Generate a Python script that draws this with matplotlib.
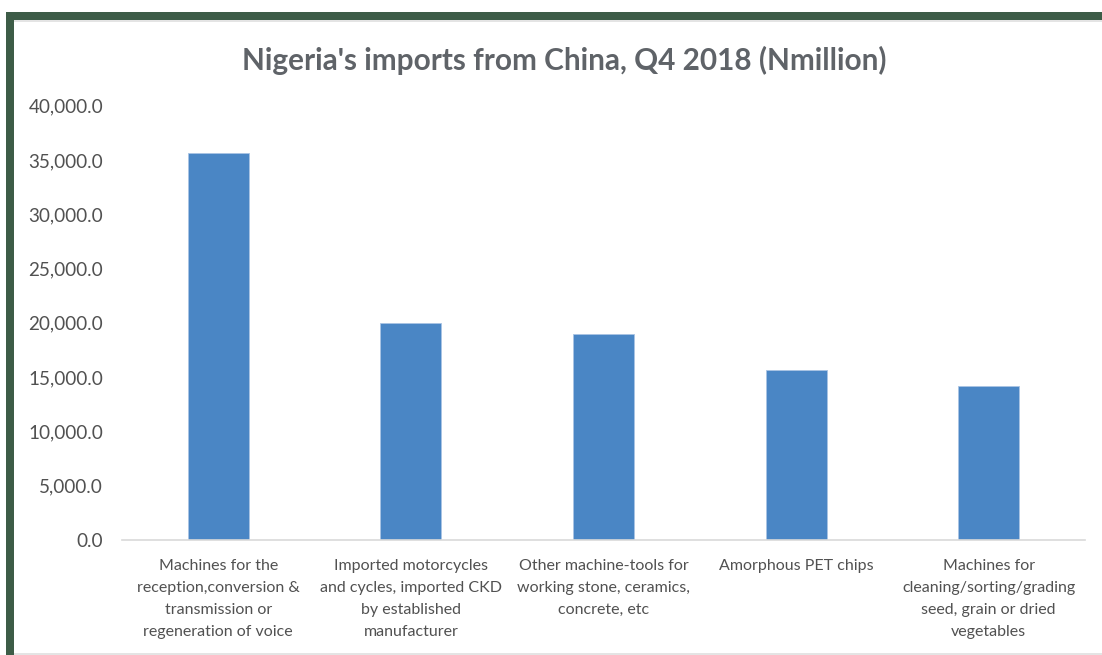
import matplotlib
matplotlib.use("Agg")
import matplotlib.pyplot as plt
from matplotlib.patches import Rectangle

categories = [
    "Machines for the\nreception,conversion &\ntransmission or\nregeneration of voice",
    "Imported motorcycles\nand cycles, imported CKD\nby established\nmanufacturer",
    "Other machine-tools for\nworking stone, ceramics,\nconcrete, etc",
    "Amorphous PET chips",
    "Machines for\ncleaning/sorting/grading\nseed, grain or dried\nvegetables",
]
values = [35600.0, 19950.0, 18950.0, 15630.0, 14200.0]
yticks = [0, 5000, 10000, 15000, 20000, 25000, 30000, 35000, 40000]
title = "Nigeria's imports from China, Q4 2018 (Nmillion)"

W, H = 1102, 655
fig = plt.figure(figsize=(W / 100, H / 100), dpi=100)
fig.patch.set_facecolor("white")

font = ["Lato", "DejaVu Sans"]
gray = "#515151"

# frame decoration
green = "#3D5C47"
fig.patches.append(Rectangle((6 / W, 0), 8 / W, (H - 12) / H, transform=fig.transFigure,
                             facecolor=green, edgecolor="none", zorder=0))
fig.patches.append(Rectangle((6 / W, (H - 20) / H), (W - 6) / W, 8 / H, transform=fig.transFigure,
                             facecolor=green, edgecolor="none", zorder=0))
fig.patches.append(Rectangle((14 / W, (H - 22) / H), (W - 14) / W, 2 / H, transform=fig.transFigure,
                             facecolor="#E4E4E4", edgecolor="none", zorder=0))
fig.patches.append(Rectangle((14 / W, 0), (W - 14) / W, 2 / H, transform=fig.transFigure,
                             facecolor="#E4E4E4", edgecolor="none", zorder=0))

ax = fig.add_axes([122 / W, 1 - 540 / H, 963 / W, (540 - 105.7) / H])
x = list(range(len(categories)))
ax.bar(x, values, width=0.317, color="#4A86C5", edgecolor="#A9C4E4", linewidth=0.6, zorder=2)
ax.set_xlim(-0.5, len(categories) - 0.5)
ax.set_ylim(0, 40000)
ax.set_yticks(yticks)
ax.set_yticklabels([f"{v:,.1f}" for v in yticks], fontsize=13.6, color=gray, family=font)
ax.set_xticks(x)
ax.set_xticklabels(categories, fontsize=11.5, color=gray, family=font, linespacing=1.72,
                   va="top")
ax.tick_params(axis="y", length=0, pad=13.7)
ax.tick_params(axis="x", length=0, pad=13.5)
for s in ["top", "right", "left"]:
    ax.spines[s].set_visible(False)
ax.spines["bottom"].set_color("#D9D9D9")
ax.spines["bottom"].set_linewidth(1.2)
ax.set_facecolor("none")

fig.text(564 / W, 1 - 60 / H, title, ha="center", va="center", fontsize=21.4,
         color="#5F6368", family=font, fontweight="bold")

fig.savefig("out.png", dpi=100)
